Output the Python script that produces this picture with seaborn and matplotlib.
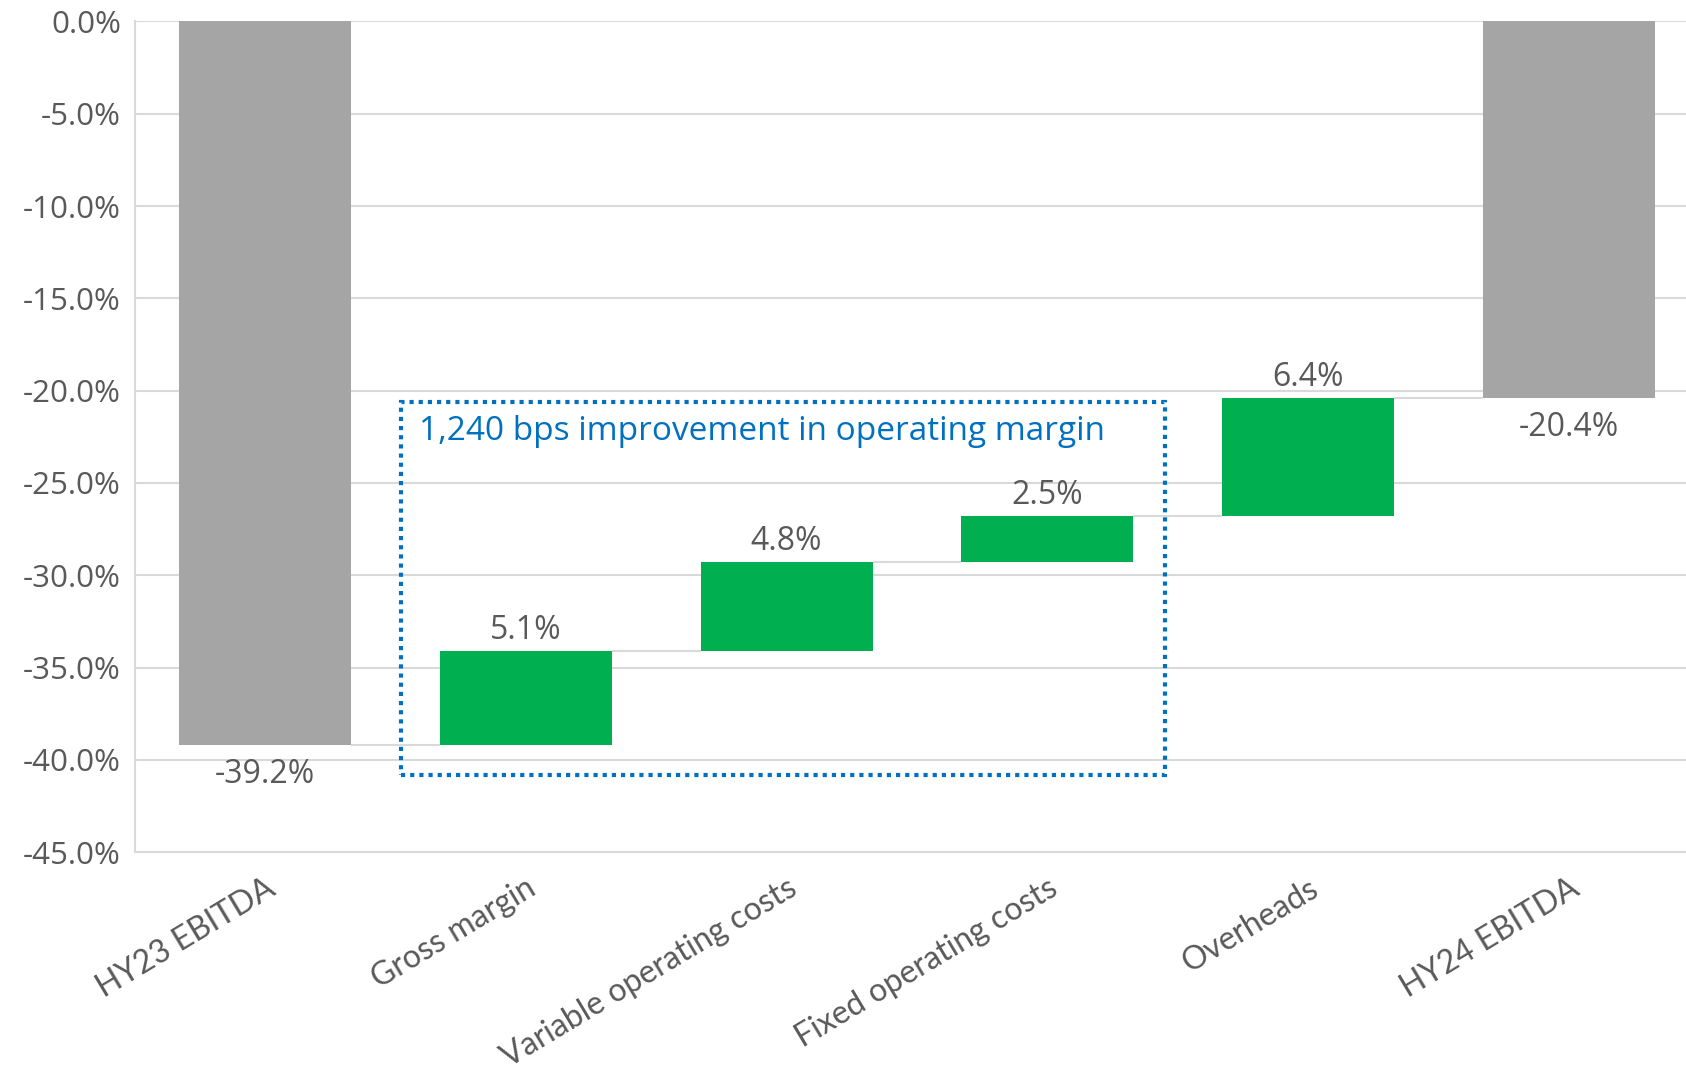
"""HY23 -> HY24 EBITDA margin bridge (waterfall)."""

import matplotlib

matplotlib.use("Agg")
import matplotlib.pyplot as plt
import pandas as pd
import seaborn as sns
from matplotlib.patches import Rectangle

CATEGORIES: list[str] = [
    "HY23 EBITDA",
    "Gross margin",
    "Variable operating costs",
    "Fixed operating costs",
    "Overheads",
    "HY24 EBITDA",
]
START_VALUE: float = -39.2
CHANGES: list[float] = [5.1, 4.8, 2.5, 6.4]
END_VALUE: float = -20.4
Y_TICKS: list[float] = [0, -5, -10, -15, -20, -25, -30, -35, -40, -45]
NOTE_TEXT = "1,240 bps improvement in operating margin"

GREY = "#A5A5A5"
GREEN = "#00B050"
TEXT_GREY = "#595959"
GRID_GREY = "#D9D9D9"
NOTE_BLUE = "#0070C0"


def build_frame() -> pd.DataFrame:
    bottoms, heights, kinds = [0.0], [START_VALUE], ["total"]
    level = START_VALUE
    for change in CHANGES:
        bottoms.append(level)
        heights.append(change)
        kinds.append("change")
        level += change
    bottoms.append(0.0)
    heights.append(END_VALUE)
    kinds.append("total")
    return pd.DataFrame({"Step": CATEGORIES, "Bottom": bottoms, "Height": heights, "Kind": kinds})


def main() -> None:
    sns.set_theme(style="white")
    plt.rcParams["font.family"] = ["Open Sans", "DejaVu Sans"]

    frame = build_frame()
    width = 0.66

    fig = plt.figure(figsize=(16.86, 10.72), dpi=100)
    ax = fig.add_axes([0.080, 0.205, 0.920, 0.775])

    for kind, color in [("total", GREY), ("change", GREEN)]:
        sub = frame[frame["Kind"] == kind]
        sns.barplot(
            data=sub,
            x="Step",
            y="Height",
            order=CATEGORIES,
            bottom=sub["Bottom"].to_numpy(),
            color=color,
            saturation=1,
            width=width,
            linewidth=0,
            errorbar=None,
            ax=ax,
        )

    # connectors between consecutive bars
    tops = (frame["Bottom"] + frame["Height"]).to_numpy()
    levels = [START_VALUE] + list(tops[1:-1])
    for i, level in enumerate(levels):
        ax.hlines(level, i + width / 2, i + 1 - width / 2, color=GRID_GREY, lw=1.5, zorder=1)

    # value labels
    for i, row in frame.iterrows():
        if row["Kind"] == "total":
            ax.annotate(f"{row['Height']:.1f}%", (i, row["Height"]), xytext=(0, -9),
                        textcoords="offset points", ha="center", va="top",
                        fontsize=23, color=TEXT_GREY)
        else:
            ax.annotate(f"{row['Height']:.1f}%", (i, row["Bottom"] + row["Height"]), xytext=(0, 3),
                        textcoords="offset points", ha="center", va="bottom",
                        fontsize=23, color=TEXT_GREY)

    # dotted call-out box around the operating cost steps
    ax.add_patch(Rectangle((0.52, -40.8), 2.93, 20.2, fill=False, edgecolor=NOTE_BLUE,
                           linestyle=(0, (1, 1.2)), linewidth=3, zorder=4))
    ax.text(0.59, -22.2, NOTE_TEXT, color=NOTE_BLUE, fontsize=24, va="center", ha="left")

    ax.set_ylim(-45, 0)
    ax.set_xlim(-0.5, 5.45)
    ax.set_yticks(Y_TICKS)
    ax.set_yticklabels([f"{t:.1f}%" for t in Y_TICKS], fontsize=22.5, color=TEXT_GREY)
    ax.yaxis.grid(True, color=GRID_GREY, lw=1.5)
    ax.set_axisbelow(True)
    ax.tick_params(axis="both", length=0, pad=10)
    ax.set_xlabel("")
    ax.set_ylabel("")
    ax.set_xticks(range(len(CATEGORIES)))
    ax.set_xticklabels(CATEGORIES, rotation=31, ha="right", rotation_mode="anchor",
                       fontsize=23, color=TEXT_GREY, family=["Lato", "DejaVu Sans"])
    ax.tick_params(axis="x", pad=15)

    for side in ["top", "right"]:
        ax.spines[side].set_visible(False)
    ax.spines["left"].set_color(GRID_GREY)
    ax.spines["left"].set_linewidth(1.5)
    ax.spines["bottom"].set_color(GRID_GREY)
    ax.spines["bottom"].set_linewidth(1.5)

    fig.savefig("out.png", dpi=100)


if __name__ == "__main__":
    main()
